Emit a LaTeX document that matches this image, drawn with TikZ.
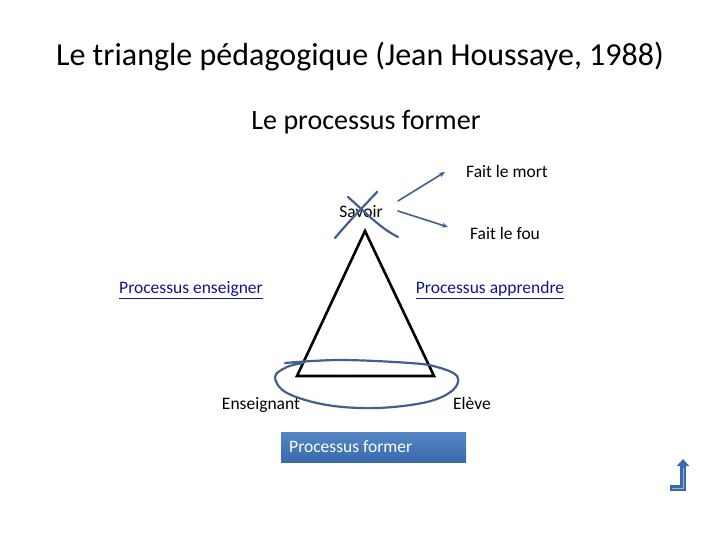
\documentclass[tikz,border=0pt]{standalone}
\usepackage{fontspec}
\setmainfont{Carlito}
\usetikzlibrary{arrows.meta}
\definecolor{inkblue}{RGB}{66,96,140}
\definecolor{linkblue}{RGB}{20,20,150}
\definecolor{boxtop}{RGB}{84,134,196}
\definecolor{boxbottom}{RGB}{58,106,172}

\tikzset{
    label/.style={inner sep=0pt, font=\fontsize{17.5}{20}\selectfont},
    link/.style={label, text=linkblue},
    ink/.style={draw=inkblue, line width=2.2pt, line cap=round}
}

\begin{document}
\begin{tikzpicture}[x=1pt, y=-1pt]
    \useasboundingbox (0, 0) rectangle (720, 540);

    \node[inner sep=0pt, font=\fontsize{32}{36}\selectfont] (title) at (360, 57) {Le triangle pédagogique (Jean Houssaye, 1988)};
    \node[inner sep=0pt, font=\fontsize{28}{32}\selectfont] (sub) at (366, 122) {Le processus former};

    % triangle
    \draw [line width=2.6pt, line join=miter] (365, 231) -- (297, 376) -- (434, 376) -- cycle;

    \node[label] (savoir) at (361, 212) {Savoir};
    \node[label] (mort) at (507, 171) {Fait le mort};
    \node[label] (fou) at (505, 233) {Fait le fou};
    \node[link] (enseigner) at (191, 290) {\underline{Processus enseigner}};
    \node[link] (apprendre) at (490, 290) {\underline{Processus apprendre}};
    \node[label, anchor=base] (enseignant) at (261, 409) {Enseignant};
    \node[label, anchor=base] (eleve) at (472, 409) {Elève};

    % croix sur savoir
    \draw [ink] (335, 238) .. controls (350, 220) and (365, 205) .. (377, 192);
    \draw [ink] (348, 197) .. controls (365, 212) and (380, 228) .. (398, 237);

    \coordinate (s1) at (398, 201);
    \coordinate (s2) at (398, 211);
    \coordinate (m1) at (445, 172);
    \coordinate (f1) at (448, 227);
    \draw [ink, line width=1.6pt, -{Stealth[length=6pt, width=5pt]}] (s1) -- (m1);
    \draw [ink, line width=1.6pt, -{Stealth[length=6pt, width=5pt]}] (s2) -- (f1);

    % cercle main levee
    \draw [ink] plot [smooth, tension=0.6] coordinates {(285, 363) (340, 360) (410, 363) (437, 367) (457, 376) (453, 390) (427, 402) (377, 408) (327, 405) (287, 393) (275, 377) (287, 367) (303, 363)};

    \node[inner sep=0pt, minimum width=185pt, minimum height=30pt, top color=boxtop, bottom color=boxbottom] (former) at (373.5, 447) {};
    \node[inner sep=0pt, anchor=west, text=white, font=\fontsize{17.5}{20}\selectfont] (formertxt) at (289, 447) {Processus former};

    % retour
    \coordinate (r0) at (670, 488);
    \coordinate (r1) at (683, 488);
    \coordinate (r2) at (683, 459);
    \draw [draw=boxbottom, line width=5.5pt, -{Triangle[length=7pt, width=12pt]}] (r0) -- (r1) -- (r2);
    \draw [draw=white!40!boxtop, line width=0.5pt] (672, 488) -- (683, 488) -- (683, 468);
\end{tikzpicture}
\end{document}
